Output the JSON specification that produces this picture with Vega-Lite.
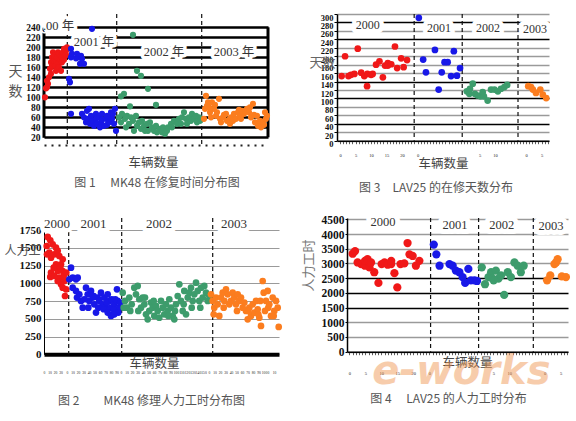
{
  "$schema": "https://vega.github.io/schema/vega-lite/v6.json",
  "background": "white",
  "padding": {"left": 3, "top": 13, "right": 0, "bottom": 0},
  "spacing": 19,
  "config": {
    "view": {"stroke": null},
    "axis": {"labelFont": "Liberation Serif", "titleFont": "Noto Sans CJK SC", "titleFontWeight": "normal", "labelOverlap": false},
    "title": {"font": "Noto Sans CJK SC", "fontWeight": "normal", "fontSize": 12, "color": "#555"}
  },
  "datasets": {
    "d1": [
      {"yr":"2000","x":1,"v":100},{"yr":"2000","x":2,"v":118},{"yr":"2000","x":3,"v":133},{"yr":"2000","x":3,"v":120},{"yr":"2000","x":4,"v":127},{"yr":"2000","x":5,"v":140},{"yr":"2000","x":6,"v":157},{"yr":"2000","x":7,"v":170},{"yr":"2000","x":7,"v":147},{"yr":"2000","x":8,"v":180},{"yr":"2000","x":8,"v":163},{"yr":"2000","x":9,"v":190},{"yr":"2000","x":10,"v":173},{"yr":"2000","x":10,"v":183},{"yr":"2000","x":11,"v":163},{"yr":"2000","x":12,"v":153},{"yr":"2000","x":12,"v":173},{"yr":"2000","x":13,"v":180},{"yr":"2000","x":14,"v":167},{"yr":"2000","x":14,"v":190},{"yr":"2000","x":15,"v":187},{"yr":"2000","x":15,"v":160},{"yr":"2000","x":16,"v":177},{"yr":"2000","x":17,"v":183},{"yr":"2000","x":17,"v":153},{"yr":"2000","x":18,"v":170},{"yr":"2000","x":18,"v":180},{"yr":"2000","x":19,"v":190},{"yr":"2000","x":20,"v":197},{"yr":"2000","x":20,"v":175},{"yr":"2000","x":21,"v":183},{"yr":"2000","x":22,"v":193},{"yr":"2000","x":22,"v":185},{"yr":"2000","x":23,"v":200},
      {"yr":"2001","x":25,"v":137},{"yr":"2001","x":26,"v":130},{"yr":"2001","x":27,"v":197},{"yr":"2001","x":27,"v":180},{"yr":"2001","x":27,"v":67},{"yr":"2001","x":28,"v":187},{"yr":"2001","x":32,"v":178},{"yr":"2001","x":33,"v":187},{"yr":"2001","x":35,"v":180},{"yr":"2001","x":36,"v":167},{"yr":"2001","x":37,"v":183},{"yr":"2001","x":38,"v":177},{"yr":"2001","x":40,"v":167},{"yr":"2001","x":48,"v":237},
      {"yr":"2001","x":38,"v":67},{"yr":"2001","x":40,"v":60},{"yr":"2001","x":42,"v":50},{"yr":"2001","x":43,"v":73},{"yr":"2001","x":44,"v":57},{"yr":"2001","x":45,"v":77},{"yr":"2001","x":46,"v":47},{"yr":"2001","x":47,"v":63},{"yr":"2001","x":49,"v":53},{"yr":"2001","x":50,"v":43},{"yr":"2001","x":52,"v":67},{"yr":"2001","x":52,"v":57},{"yr":"2001","x":53,"v":47},{"yr":"2001","x":55,"v":60},{"yr":"2001","x":56,"v":40},{"yr":"2001","x":57,"v":50},{"yr":"2001","x":58,"v":67},{"yr":"2001","x":58,"v":55},{"yr":"2001","x":60,"v":43},{"yr":"2001","x":62,"v":57},{"yr":"2001","x":63,"v":63},{"yr":"2001","x":63,"v":45},{"yr":"2001","x":65,"v":50},{"yr":"2001","x":66,"v":60},{"yr":"2001","x":67,"v":70},{"yr":"2001","x":68,"v":57},{"yr":"2001","x":69,"v":67},{"yr":"2001","x":70,"v":47},{"yr":"2001","x":71,"v":77},{"yr":"2001","x":72,"v":33},
      {"yr":"2002","x":89,"v":225},{"yr":"2002","x":93,"v":153},{"yr":"2002","x":97,"v":143},{"yr":"2002","x":104,"v":117},{"yr":"2002","x":112,"v":85},{"yr":"2002","x":77,"v":102},{"yr":"2002","x":80,"v":107},{"yr":"2002","x":86,"v":82},
      {"yr":"2002","x":75,"v":60},{"yr":"2002","x":77,"v":50},{"yr":"2002","x":78,"v":67},{"yr":"2002","x":81,"v":57},{"yr":"2002","x":82,"v":40},{"yr":"2002","x":83,"v":63},{"yr":"2002","x":85,"v":47},{"yr":"2002","x":87,"v":60},{"yr":"2002","x":89,"v":53},{"yr":"2002","x":90,"v":33},{"yr":"2002","x":92,"v":63},{"yr":"2002","x":93,"v":43},{"yr":"2002","x":95,"v":50},{"yr":"2002","x":97,"v":37},{"yr":"2002","x":98,"v":53},{"yr":"2002","x":100,"v":43},{"yr":"2002","x":101,"v":33},{"yr":"2002","x":103,"v":47},{"yr":"2002","x":104,"v":33},{"yr":"2002","x":106,"v":50},{"yr":"2002","x":108,"v":40},{"yr":"2002","x":110,"v":33},{"yr":"2002","x":112,"v":43},{"yr":"2002","x":113,"v":30},{"yr":"2002","x":116,"v":37},{"yr":"2002","x":118,"v":30},{"yr":"2002","x":119,"v":40},{"yr":"2002","x":121,"v":27},{"yr":"2002","x":123,"v":33},{"yr":"2002","x":124,"v":40},{"yr":"2002","x":127,"v":47},{"yr":"2002","x":128,"v":40},{"yr":"2002","x":130,"v":53},{"yr":"2002","x":133,"v":47},{"yr":"2002","x":135,"v":57},{"yr":"2002","x":137,"v":47},{"yr":"2002","x":138,"v":60},{"yr":"2002","x":140,"v":70},{"yr":"2002","x":142,"v":57},{"yr":"2002","x":143,"v":47},{"yr":"2002","x":145,"v":60},{"yr":"2002","x":147,"v":53},{"yr":"2002","x":148,"v":67},{"yr":"2002","x":150,"v":57},{"yr":"2002","x":152,"v":63},{"yr":"2002","x":153,"v":50},{"yr":"2002","x":155,"v":60},{"yr":"2002","x":156,"v":53},
      {"yr":"2003","x":160,"v":57},{"yr":"2003","x":161,"v":77},{"yr":"2003","x":162,"v":103},{"yr":"2003","x":163,"v":83},{"yr":"2003","x":164,"v":90},{"yr":"2003","x":165,"v":80},{"yr":"2003","x":166,"v":70},{"yr":"2003","x":167,"v":60},{"yr":"2003","x":168,"v":90},{"yr":"2003","x":170,"v":77},{"yr":"2003","x":171,"v":85},{"yr":"2003","x":172,"v":63},{"yr":"2003","x":173,"v":70},{"yr":"2003","x":175,"v":97},{"yr":"2003","x":176,"v":57},{"yr":"2003","x":177,"v":50},{"yr":"2003","x":179,"v":60},{"yr":"2003","x":180,"v":65},{"yr":"2003","x":182,"v":67},{"yr":"2003","x":183,"v":53},{"yr":"2003","x":185,"v":55},{"yr":"2003","x":186,"v":47},{"yr":"2003","x":187,"v":60},{"yr":"2003","x":189,"v":53},{"yr":"2003","x":190,"v":67},{"yr":"2003","x":192,"v":57},{"yr":"2003","x":194,"v":70},{"yr":"2003","x":195,"v":75},{"yr":"2003","x":196,"v":63},{"yr":"2003","x":197,"v":57},{"yr":"2003","x":198,"v":73},{"yr":"2003","x":200,"v":67},{"yr":"2003","x":201,"v":72},{"yr":"2003","x":203,"v":77},{"yr":"2003","x":205,"v":70},{"yr":"2003","x":206,"v":80},{"yr":"2003","x":207,"v":60},{"yr":"2003","x":209,"v":87},{"yr":"2003","x":210,"v":65},{"yr":"2003","x":211,"v":50},{"yr":"2003","x":213,"v":63},{"yr":"2003","x":214,"v":43},{"yr":"2003","x":215,"v":48},{"yr":"2003","x":216,"v":53},{"yr":"2003","x":217,"v":40},{"yr":"2003","x":219,"v":50},{"yr":"2003","x":220,"v":45},{"yr":"2003","x":221,"v":70},{"yr":"2003","x":222,"v":57},{"yr":"2003","x":223,"v":63}
    ],
    "b1": [{"x":23.3},{"x":72.7},{"x":157.7}],
    "a1": [{"t":".00 年","x":14.5,"v":243},{"t":"2001 年","x":50,"v":210},{"t":"2002 年","x":120,"v":190},{"t":"2003 年","x":190,"v":191}],
    "d2": [
      {"yr":"2000","x":0.5,"v":153},{"yr":"2000","x":1.6,"v":200},{"yr":"2000","x":2.7,"v":153},{"yr":"2000","x":3.5,"v":156},{"yr":"2000","x":4.6,"v":158},{"yr":"2000","x":5.7,"v":218},{"yr":"2000","x":6.8,"v":161},{"yr":"2000","x":7.8,"v":153},{"yr":"2000","x":8.7,"v":129},{"yr":"2000","x":8.8,"v":158},{"yr":"2000","x":10,"v":156},{"yr":"2000","x":10.5,"v":158},{"yr":"2000","x":11.6,"v":180},{"yr":"2000","x":12.7,"v":188},{"yr":"2000","x":13.8,"v":150},{"yr":"2000","x":14.5,"v":178},{"yr":"2000","x":15.4,"v":184},{"yr":"2000","x":15.4,"v":178},{"yr":"2000","x":16.5,"v":181},{"yr":"2000","x":17.7,"v":223},{"yr":"2000","x":18.4,"v":172},{"yr":"2000","x":19.7,"v":195},{"yr":"2000","x":20.5,"v":174},{"yr":"2000","x":21.6,"v":191},
      {"yr":"2001","x":25.4,"v":291},{"yr":"2001","x":26.8,"v":192},{"yr":"2001","x":27.7,"v":162},{"yr":"2001","x":30.6,"v":215},{"yr":"2001","x":31.8,"v":121},{"yr":"2001","x":32.8,"v":162},{"yr":"2001","x":33.7,"v":186},{"yr":"2001","x":34.7,"v":186},{"yr":"2001","x":35.8,"v":153},{"yr":"2001","x":36.7,"v":212},{"yr":"2001","x":37.7,"v":154},{"yr":"2001","x":38.7,"v":172},
      {"yr":"2002","x":40.9,"v":117},{"yr":"2002","x":41.7,"v":111},{"yr":"2002","x":41.9,"v":123},{"yr":"2002","x":42.8,"v":135},{"yr":"2002","x":43.5,"v":111},{"yr":"2002","x":44.4,"v":107},{"yr":"2002","x":45.3,"v":105},{"yr":"2002","x":46,"v":115},{"yr":"2002","x":46.4,"v":105},{"yr":"2002","x":47.6,"v":95},{"yr":"2002","x":48.7,"v":121},{"yr":"2002","x":49.8,"v":121},{"yr":"2002","x":50.9,"v":117},{"yr":"2002","x":51.9,"v":123},{"yr":"2002","x":53,"v":127},{"yr":"2002","x":53.9,"v":132},
      {"yr":"2003","x":60.7,"v":129},{"yr":"2003","x":61.6,"v":127},{"yr":"2003","x":62.2,"v":121},{"yr":"2003","x":63.2,"v":113},{"yr":"2003","x":64.6,"v":121},{"yr":"2003","x":65.4,"v":109},{"yr":"2003","x":66.5,"v":101}
    ],
    "b2": [{"x":23.9},{"x":39.4},{"x":57.4}],
    "a2": [{"t":"2000","x":8.9,"v":275},{"t":"2001","x":31.9,"v":267},{"t":"2002","x":47.7,"v":267},{"t":"2003","x":62.9,"v":264}],
    "d3": [
      {"yr":"2000","x":1.7,"v":1652},{"yr":"2000","x":4.3,"v":1605},{"yr":"2000","x":0.7,"v":1525},{"yr":"2000","x":6.7,"v":1548},{"yr":"2000","x":10,"v":1501},{"yr":"2000","x":3.3,"v":1431},{"yr":"2000","x":5,"v":1361},{"yr":"2000","x":8.3,"v":1408},{"yr":"2000","x":11.7,"v":1455},{"yr":"2000","x":13.3,"v":1384},{"yr":"2000","x":16.7,"v":1337},{"yr":"2000","x":15,"v":1267},{"yr":"2000","x":10,"v":1267},{"yr":"2000","x":5,"v":1150},{"yr":"2000","x":4.3,"v":1089},{"yr":"2000","x":11.7,"v":1173},{"yr":"2000","x":13.3,"v":1079},{"yr":"2000","x":16.7,"v":1173},{"yr":"2000","x":18.3,"v":1032},{"yr":"2000","x":15,"v":985},{"yr":"2000","x":20,"v":915},{"yr":"2000","x":19,"v":821},{"yr":"2000","x":16.7,"v":938},{"yr":"2000","x":11.7,"v":1032},{"yr":"2000","x":8.3,"v":1103},{"yr":"2000","x":1,"v":1408},{"yr":"2000","x":7.7,"v":1220},{"yr":"2000","x":14.3,"v":1220},{"yr":"2000","x":17.7,"v":1103},{"yr":"2000","x":20.3,"v":1150},
      {"yr":"2001","x":25,"v":1220},{"yr":"2001","x":23.3,"v":1056},{"yr":"2001","x":26.7,"v":1079},{"yr":"2001","x":30,"v":1056},{"yr":"2001","x":31.7,"v":1079},{"yr":"2001","x":26.7,"v":938},{"yr":"2001","x":30,"v":892},{"yr":"2001","x":33.3,"v":845},{"yr":"2001","x":35,"v":751},{"yr":"2001","x":36.7,"v":657},{"yr":"2001","x":40,"v":938},{"yr":"2001","x":41.7,"v":845},{"yr":"2001","x":43.3,"v":751},{"yr":"2001","x":45,"v":892},{"yr":"2001","x":46.7,"v":798},{"yr":"2001","x":48.3,"v":704},{"yr":"2001","x":50,"v":587},{"yr":"2001","x":51.7,"v":798},{"yr":"2001","x":53.3,"v":751},{"yr":"2001","x":55,"v":868},{"yr":"2001","x":56.7,"v":704},{"yr":"2001","x":58.3,"v":798},{"yr":"2001","x":60,"v":657},{"yr":"2001","x":61.7,"v":845},{"yr":"2001","x":63.3,"v":751},{"yr":"2001","x":65,"v":657},{"yr":"2001","x":66.7,"v":563},{"yr":"2001","x":68.3,"v":704},{"yr":"2001","x":70,"v":610},{"yr":"2001","x":71.7,"v":751},{"yr":"2001","x":71,"v":915},{"yr":"2001","x":73.3,"v":657},{"yr":"2001","x":31,"v":798},{"yr":"2001","x":38.3,"v":775},{"yr":"2001","x":42.3,"v":657},{"yr":"2001","x":47.7,"v":821},{"yr":"2001","x":52.3,"v":657},{"yr":"2001","x":57.7,"v":634},{"yr":"2001","x":61,"v":728},{"yr":"2001","x":65.7,"v":775},{"yr":"2001","x":67.7,"v":634},{"yr":"2001","x":72.3,"v":587},{"yr":"2001","x":69.3,"v":775},{"yr":"2001","x":74.3,"v":728},{"yr":"2001","x":65,"v":540},{"yr":"2001","x":68.3,"v":563},{"yr":"2001","x":61.7,"v":587},
      {"yr":"2002","x":76.7,"v":868},{"yr":"2002","x":79,"v":751},{"yr":"2002","x":81,"v":657},{"yr":"2002","x":83.3,"v":798},{"yr":"2002","x":85.7,"v":704},{"yr":"2002","x":88.3,"v":938},{"yr":"2002","x":90,"v":845},{"yr":"2002","x":91.7,"v":962},{"yr":"2002","x":93.3,"v":775},{"yr":"2002","x":95,"v":657},{"yr":"2002","x":96.7,"v":798},{"yr":"2002","x":98.3,"v":704},{"yr":"2002","x":100,"v":563},{"yr":"2002","x":101.7,"v":493},{"yr":"2002","x":103.3,"v":610},{"yr":"2002","x":105,"v":728},{"yr":"2002","x":106.7,"v":657},{"yr":"2002","x":108.3,"v":540},{"yr":"2002","x":110,"v":681},{"yr":"2002","x":111.7,"v":610},{"yr":"2002","x":113.3,"v":516},{"yr":"2002","x":115,"v":751},{"yr":"2002","x":116.7,"v":657},{"yr":"2002","x":118.3,"v":563},{"yr":"2002","x":120,"v":704},{"yr":"2002","x":121.7,"v":610},{"yr":"2002","x":123.3,"v":775},{"yr":"2002","x":125,"v":657},{"yr":"2002","x":126.7,"v":540},{"yr":"2002","x":128.3,"v":493},{"yr":"2002","x":130,"v":704},{"yr":"2002","x":131.7,"v":821},{"yr":"2002","x":133.3,"v":985},{"yr":"2002","x":135,"v":751},{"yr":"2002","x":136.7,"v":610},{"yr":"2002","x":138.3,"v":892},{"yr":"2002","x":140,"v":563},{"yr":"2002","x":141.7,"v":798},{"yr":"2002","x":143.3,"v":868},{"yr":"2002","x":145,"v":938},{"yr":"2002","x":146.7,"v":751},{"yr":"2002","x":148.3,"v":845},{"yr":"2002","x":150,"v":1009},{"yr":"2002","x":151.7,"v":892},{"yr":"2002","x":153.3,"v":751},{"yr":"2002","x":155,"v":938},{"yr":"2002","x":156.7,"v":798},{"yr":"2002","x":158.3,"v":962},{"yr":"2002","x":160,"v":868},{"yr":"2002","x":161.7,"v":751},{"yr":"2002","x":163.3,"v":821},{"yr":"2002","x":77.7,"v":657},{"yr":"2002","x":84.3,"v":610},{"yr":"2002","x":92.3,"v":610},{"yr":"2002","x":99,"v":798},{"yr":"2002","x":107.7,"v":751},{"yr":"2002","x":122.3,"v":540},{"yr":"2002","x":129,"v":610},{"yr":"2002","x":137.7,"v":704},{"yr":"2002","x":145.7,"v":657},{"yr":"2002","x":154.3,"v":657},
      {"yr":"2003","x":165,"v":845},{"yr":"2003","x":166.7,"v":751},{"yr":"2003","x":168.3,"v":657},{"yr":"2003","x":170,"v":798},{"yr":"2003","x":171.7,"v":704},{"yr":"2003","x":173.3,"v":540},{"yr":"2003","x":175,"v":798},{"yr":"2003","x":176.7,"v":868},{"yr":"2003","x":178.3,"v":751},{"yr":"2003","x":180,"v":915},{"yr":"2003","x":181.7,"v":845},{"yr":"2003","x":183.3,"v":704},{"yr":"2003","x":185,"v":751},{"yr":"2003","x":186.7,"v":868},{"yr":"2003","x":188.3,"v":798},{"yr":"2003","x":190,"v":704},{"yr":"2003","x":191.7,"v":845},{"yr":"2003","x":193.3,"v":751},{"yr":"2003","x":195,"v":798},{"yr":"2003","x":196.7,"v":657},{"yr":"2003","x":198.3,"v":728},{"yr":"2003","x":200,"v":610},{"yr":"2003","x":201.7,"v":493},{"yr":"2003","x":203.3,"v":657},{"yr":"2003","x":205,"v":540},{"yr":"2003","x":206.7,"v":704},{"yr":"2003","x":208.3,"v":587},{"yr":"2003","x":210,"v":751},{"yr":"2003","x":211.7,"v":634},{"yr":"2003","x":213.3,"v":516},{"yr":"2003","x":215,"v":399},{"yr":"2003","x":216.7,"v":1032},{"yr":"2003","x":217.7,"v":868},{"yr":"2003","x":219,"v":610},{"yr":"2003","x":220,"v":751},{"yr":"2003","x":221.7,"v":892},{"yr":"2003","x":223.3,"v":704},{"yr":"2003","x":225,"v":540},{"yr":"2003","x":226.7,"v":798},{"yr":"2003","x":228.3,"v":610},{"yr":"2003","x":230,"v":751},{"yr":"2003","x":231.7,"v":657},{"yr":"2003","x":232.7,"v":385},{"yr":"2003","x":167.7,"v":563},{"yr":"2003","x":177.7,"v":657},{"yr":"2003","x":191,"v":610},{"yr":"2003","x":202.3,"v":610},{"yr":"2003","x":212.3,"v":563},{"yr":"2003","x":222.3,"v":657},{"yr":"2003","x":227.7,"v":540},{"yr":"2003","x":214.3,"v":751}
    ],
    "b3": [{"x":22.7},{"x":75.7},{"x":166.7}],
    "a3": [{"t":"2000","x":11,"v":1835},{"t":"2001","x":47.5,"v":1835},{"t":"2002","x":113,"v":1835},{"t":"2003","x":188,"v":1835}],
    "d4": [
      {"yr":"2000","x":1.05,"v":3331},{"yr":"2000","x":1.8,"v":3419},{"yr":"2000","x":2.6,"v":3033},{"yr":"2000","x":3.7,"v":2978},{"yr":"2000","x":4.9,"v":2923},{"yr":"2000","x":4.9,"v":3089},{"yr":"2000","x":5.7,"v":3144},{"yr":"2000","x":6.3,"v":2868},{"yr":"2000","x":6.8,"v":3033},{"yr":"2000","x":7.8,"v":2702},{"yr":"2000","x":9.1,"v":2338},{"yr":"2000","x":10.1,"v":2978},{"yr":"2000","x":11,"v":3033},{"yr":"2000","x":12,"v":2956},{"yr":"2000","x":13.1,"v":2978},{"yr":"2000","x":13.1,"v":3089},{"yr":"2000","x":14.1,"v":2669},{"yr":"2000","x":15,"v":2184},{"yr":"2000","x":16,"v":2978},{"yr":"2000","x":17.2,"v":3000},{"yr":"2000","x":18.2,"v":3695},{"yr":"2000","x":18.8,"v":3309},{"yr":"2000","x":19.8,"v":3254},{"yr":"2000","x":20.8,"v":2923},{"yr":"2000","x":21.9,"v":3089},
      {"yr":"2001","x":26.4,"v":3640},{"yr":"2001","x":27.2,"v":3309},{"yr":"2001","x":28.2,"v":2923},{"yr":"2001","x":31.3,"v":2978},{"yr":"2001","x":32.3,"v":2923},{"yr":"2001","x":33.3,"v":2758},{"yr":"2001","x":34.4,"v":2702},{"yr":"2001","x":35.4,"v":2537},{"yr":"2001","x":36.2,"v":2338},{"yr":"2001","x":37.2,"v":2813},{"yr":"2001","x":38,"v":2427},{"yr":"2001","x":39.1,"v":2427},{"yr":"2001","x":39.9,"v":2404},
      {"yr":"2002","x":41.4,"v":2868},{"yr":"2002","x":42.4,"v":2294},{"yr":"2002","x":43.5,"v":2537},{"yr":"2002","x":44.3,"v":2702},{"yr":"2002","x":44.8,"v":2482},{"yr":"2002","x":45.1,"v":2427},{"yr":"2002","x":45.8,"v":2758},{"yr":"2002","x":46.6,"v":2482},{"yr":"2002","x":47.4,"v":2592},{"yr":"2002","x":48.4,"v":1930},{"yr":"2002","x":49.5,"v":2702},{"yr":"2002","x":50.5,"v":2537},{"yr":"2002","x":51.6,"v":3033},{"yr":"2002","x":52.6,"v":2923},{"yr":"2002","x":53.6,"v":2702},{"yr":"2002","x":54.5,"v":2923},
      {"yr":"2003","x":61.8,"v":2427},{"yr":"2003","x":62.8,"v":2592},{"yr":"2003","x":64.1,"v":2978},{"yr":"2003","x":64.6,"v":3033},{"yr":"2003","x":65.1,"v":3144},{"yr":"2003","x":66.4,"v":2559},{"yr":"2003","x":67.7,"v":2537}
    ],
    "b4": [{"x":25.4},{"x":40.4},{"x":57.5}],
    "a4": [{"t":"2000","x":10.5,"v":4411},{"t":"2001","x":33,"v":4302},{"t":"2002","x":47.6,"v":4302},{"t":"2003","x":63,"v":4280}]
  },
  "vconcat": [
    {
      "bounds": "flush",
      "spacing": 69,
      "hconcat": [
        {
          "width": 224,
          "height": 131,
          "title": {"text": "图 1　 MK48 在修复时间分布图", "orient": "bottom", "anchor": "middle", "offset": 9, "dx": 1},
          "layer": [
            {
              "data": {"name": "b1"},
              "mark": {"type": "rule", "strokeDash": [4, 3], "strokeWidth": 1.2, "color": "#111"},
              "encoding": {"x": {"field": "x", "type": "quantitative", "scale": {"domain": [0, 224], "nice": false, "zero": false}}}
            },
            {
              "data": {"values": [{}]},
              "mark": {"type": "rule", "strokeWidth": 3, "color": "#000"},
              "encoding": {
                "x": {"datum": 0, "scale": {"domain": [0, 224], "nice": false, "zero": false}},
                "y": {"datum": 19, "scale": {"domain": [4.6, 266.6], "nice": false, "zero": false}},
                "y2": {"datum": 240}
              }
            },
            {
              "data": {"values": [{}]},
              "mark": {"type": "rule", "strokeWidth": 3, "color": "#000"},
              "encoding": {
                "x": {"datum": 224, "scale": {"domain": [0, 224], "nice": false, "zero": false}},
                "y": {"datum": 20, "scale": {"domain": [4.6, 266.6], "nice": false, "zero": false}},
                "y2": {"datum": 240}
              }
            },
            {
              "data": {"name": "a1"},
              "mark": {"type": "text", "font": "Liberation Serif, Noto Sans CJK SC", "fontSize": 12.5, "fill": "#fff", "stroke": "#fff", "strokeWidth": 7, "strokeJoin": "round"},
              "encoding": {
                "x": {"field": "x", "type": "quantitative", "scale": {"domain": [0, 224], "nice": false, "zero": false}},
                "y": {"field": "v", "type": "quantitative", "scale": {"domain": [4.6, 266.6], "nice": false, "zero": false}},
                "text": {"field": "t"}
              }
            },
            {
              "data": {"name": "a1"},
              "mark": {"type": "text", "font": "Liberation Serif, Noto Sans CJK SC", "fontSize": 12.5, "color": "#333"},
              "encoding": {
                "x": {"field": "x", "type": "quantitative", "scale": {"domain": [0, 224], "nice": false, "zero": false}},
                "y": {"field": "v", "type": "quantitative", "scale": {"domain": [4.6, 266.6], "nice": false, "zero": false}},
                "text": {"field": "t"}
              }
            },
            {
              "data": {"name": "d1"},
              "mark": {"type": "circle", "size": 38, "opacity": 1},
              "encoding": {
                "x": {
                  "field": "x", "type": "quantitative",
                  "scale": {"domain": [0, 224], "nice": false, "zero": false},
                  "axis": {
                    "title": "车辆数量", "titleFontSize": 12.5, "titleColor": "#444", "titleX": 109, "titleY": 17, "titleAlign": "center", "titleBaseline": "middle",
                    "domainDash": [2, 5], "domainWidth": 2, "domainColor": "#222", "ticks": false, "labels": false, "grid": false
                  }
                },
                "y": {
                  "field": "v", "type": "quantitative",
                  "scale": {"domain": [4.6, 266.6], "nice": false, "zero": false},
                  "axis": {
                    "values": [20, 40, 60, 80, 100, 120, 140, 160, 180, 200, 220, 240], "tickCount": 300, "format": "d",
                    "grid": true, "gridColor": "#000", "gridWidth": 2.5, "gridOpacity": 1,
                    "domain": false, "ticks": false, "labelOverlap": false,
                    "labelFontWeight": "bold", "labelFontSize": 9.5, "labelColor": "#111", "labelPadding": 4,
                    "title": ["天", "数"], "titleAngle": 0, "titleFontSize": 14, "titleColor": "#555", "titleX": -29, "titleY": 57, "titleAlign": "center", "titleBaseline": "middle", "titleLineHeight": 20
                  }
                },
                "color": {"field": "yr", "type": "nominal", "scale": {"domain": ["2000", "2001", "2002", "2003"], "range": ["#f01818", "#1818e8", "#3d9c6c", "#fb7d1f"]}, "legend": null}
              }
            }
          ]
        },
        {
          "width": 212,
          "height": 126.7,
          "title": {"text": "图 3　LAV25 的在修天数分布", "orient": "bottom", "anchor": "middle", "offset": 13, "dx": -7},
          "layer": [
            {
              "data": {"name": "b2"},
              "mark": {"type": "rule", "strokeDash": [4, 3], "strokeWidth": 1.2, "color": "#111"},
              "encoding": {"x": {"field": "x", "type": "quantitative", "scale": {"domain": [-1, 67.4], "nice": false, "zero": false}}}
            },
            {
              "data": {"name": "a2"},
              "mark": {"type": "text", "font": "Liberation Serif", "fontSize": 12, "fill": "#fff", "stroke": "#fff", "strokeWidth": 9, "strokeJoin": "round"},
              "encoding": {
                "x": {"field": "x", "type": "quantitative", "scale": {"domain": [-1, 67.4], "nice": false, "zero": false}},
                "y": {"field": "v", "type": "quantitative", "scale": {"domain": [0, 300], "nice": false, "zero": false}},
                "text": {"field": "t"}
              }
            },
            {
              "data": {"name": "a2"},
              "mark": {"type": "text", "font": "Liberation Serif", "fontSize": 12, "color": "#333"},
              "encoding": {
                "x": {"field": "x", "type": "quantitative", "scale": {"domain": [-1, 67.4], "nice": false, "zero": false}},
                "y": {"field": "v", "type": "quantitative", "scale": {"domain": [0, 300], "nice": false, "zero": false}},
                "text": {"field": "t"}
              }
            },
            {
              "data": {"name": "d2"},
              "mark": {"type": "circle", "size": 45, "opacity": 1},
              "encoding": {
                "x": {
                  "field": "x", "type": "quantitative",
                  "scale": {"domain": [-1, 67.4], "nice": false, "zero": false},
                  "axis": {
                    "values": [0,1,2,3,4,5,6,7,8,9,10,11,12,13,14,15,16,17,18,19,20,21,22,23,24,25,26,27,28,29,30,31,32,33,34,35,36,37,38,39,40,41,42,43,44,45,46,47,48,49,50,51,52,53,54,55,56,57,58,59,60,61,62,63,64,65,66,67], "tickCount": 300, "format": "d",
                    "labelExpr": "datum.value <= 20 ? (datum.value % 5 === 0 ? datum.label : '') : datum.value === 25 ? '0' : datum.value === 45 ? '5' : datum.value === 50 ? '10' : datum.value === 60 ? '0' : datum.value === 65 ? '5' : ''",
                    "labelFontSize": 4.5, "labelColor": "#222", "labelPadding": 9, "labelOverlap": false, "labelBound": false, "labelFlush": false,
                    "tickSize": 3, "tickColor": "#333", "tickWidth": 0.8,
                    "domainColor": "#000", "domainWidth": 1.5, "grid": false,
                    "title": "车辆数量", "titleFontSize": 12.5, "titleColor": "#444", "titleX": 106, "titleY": 23, "titleAlign": "center", "titleBaseline": "middle"
                  }
                },
                "y": {
                  "field": "v", "type": "quantitative",
                  "scale": {"domain": [0, 300], "nice": false, "zero": false},
                  "axis": {
                    "values": [0, 20, 40, 60, 80, 100, 120, 140, 160, 180, 200, 220, 240, 260, 280, 300], "tickCount": 300, "format": "d",
                    "grid": true,
                    "gridColor": {"condition": {"test": "indexof([40, 100, 140, 240, 280], datum.value) >= 0", "value": "#000"}, "value": "#9a9a9a"},
                    "gridWidth": 1.3, "labelOverlap": false,
                    "domainColor": "#000", "domainWidth": 1.5, "tickSize": 3, "tickColor": "#000",
                    "labelFontWeight": "bold", "labelFontSize": 8.5, "labelColor": "#111", "labelPadding": 1, "labelOffset": 3,
                    "title": "天数", "titleAngle": 0, "titleFontSize": 13, "titleColor": "#666", "titleX": -15, "titleY": 48, "titleAlign": "center", "titleBaseline": "middle"
                  }
                },
                "color": {"field": "yr", "type": "nominal", "scale": {"domain": ["2000", "2001", "2002", "2003"], "range": ["#f01818", "#1818e8", "#3d9c6c", "#fb7d1f"]}, "legend": null}
              }
            }
          ]
        }
      ]
    },
    {
      "bounds": "flush",
      "spacing": 68,
      "hconcat": [
        {
          "width": 235,
          "height": 136.3,
          "title": {"text": "图 2　　MK48 修理人力工时分布图", "orient": "bottom", "anchor": "middle", "offset": 22, "dx": -10},
          "layer": [
            {
              "data": {"name": "b3"},
              "mark": {"type": "rule", "strokeDash": [4, 3], "strokeWidth": 1.2, "color": "#111"},
              "encoding": {"x": {"field": "x", "type": "quantitative", "scale": {"domain": [-2, 233], "nice": false, "zero": false}}}
            },
            {
              "data": {"name": "a3"},
              "mark": {"type": "text", "font": "Liberation Serif", "fontSize": 13, "fill": "#fff", "stroke": "#fff", "strokeWidth": 9, "strokeJoin": "round"},
              "encoding": {
                "x": {"field": "x", "type": "quantitative", "scale": {"domain": [-2, 233], "nice": false, "zero": false}},
                "y": {"field": "v", "type": "quantitative", "scale": {"domain": [0, 1919], "nice": false, "zero": false}},
                "text": {"field": "t"}
              }
            },
            {
              "data": {"name": "a3"},
              "mark": {"type": "text", "font": "Liberation Serif", "fontSize": 13, "color": "#333"},
              "encoding": {
                "x": {"field": "x", "type": "quantitative", "scale": {"domain": [-2, 233], "nice": false, "zero": false}},
                "y": {"field": "v", "type": "quantitative", "scale": {"domain": [0, 1919], "nice": false, "zero": false}},
                "text": {"field": "t"}
              }
            },
            {
              "data": {"name": "d3"},
              "mark": {"type": "circle", "size": 45, "opacity": 1},
              "encoding": {
                "x": {
                  "field": "x", "type": "quantitative",
                  "scale": {"domain": [-2, 233], "nice": false, "zero": false},
                  "axis": {
                    "values": [-2, 3.5, 9, 14.5, 21, 26.5, 32, 37.5, 43, 48.5, 54, 59.5, 65, 70.5, 75, 80.5, 86, 91.5, 97, 102.5, 108, 113.5, 119, 124.5, 130, 135.5, 141, 146.5, 152, 157.5, 163, 168.5, 174, 179.5, 185, 190.5, 196, 201.5, 207, 212.5, 218, 222, 228], "tickCount": 300,
                    "labelExpr": "datum.value < 19 ? '' + round((datum.value + 2) / 5.5) * 10 : datum.value < 73 ? '' + round((datum.value - 21) / 5.5) * 10 : datum.value < 161 ? '' + round((datum.value - 75) / 5.5) * 10 : datum.value < 221 ? '' + round((datum.value - 163) / 5.5) * 10 : '' + round((datum.value - 222) / 5.5) * 10",
                    "labelFontSize": 3.6, "labelColor": "#222", "labelPadding": 16, "labelOverlap": false, "labelBound": false, "labelFlush": false,
                    "ticks": false, "tickSize": 0,
                    "domainColor": "#000", "domainWidth": 4, "grid": false,
                    "title": "车辆数量", "titleFontSize": 12.5, "titleColor": "#444", "titleX": 110, "titleY": 9, "titleAlign": "center", "titleBaseline": "middle"
                  }
                },
                "y": {
                  "field": "v", "type": "quantitative",
                  "scale": {"domain": [0, 1919], "nice": false, "zero": false},
                  "axis": {
                    "values": [0, 250, 500, 750, 1000, 1250, 1500, 1750], "tickCount": 300, "format": "d", "labelOverlap": false,
                    "grid": true, "gridColor": "#9a9a9a", "gridWidth": 1.2,
                    "domainColor": "#000", "domainWidth": 1, "ticks": false,
                    "labelFontWeight": "bold", "labelFontSize": 11, "labelColor": "#111", "labelPadding": 3,
                    "title": "人力工", "titleAngle": 0, "titleFontSize": 12, "titleColor": "#555", "titleX": -22, "titleY": 32, "titleAlign": "center", "titleBaseline": "middle"
                  }
                },
                "color": {"field": "yr", "type": "nominal", "scale": {"domain": ["2000", "2001", "2002", "2003"], "range": ["#f01818", "#1818e8", "#3d9c6c", "#fb7d1f"]}, "legend": null}
              }
            }
          ]
        },
        {
          "width": 221,
          "height": 133.7,
          "title": {"text": "图 4　 LAV25 的人力工时分布", "orient": "bottom", "anchor": "middle", "offset": 2, "dx": -9},
          "layer": [
            {
              "data": {"name": "b4"},
              "mark": {"type": "rule", "strokeDash": [4, 3], "strokeWidth": 1.2, "color": "#111"},
              "encoding": {"x": {"field": "x", "type": "quantitative", "scale": {"domain": [-0.72, 68.34], "nice": false, "zero": false}}}
            },
            {
              "data": {"name": "a4"},
              "mark": {"type": "text", "font": "Liberation Serif", "fontSize": 12.5, "fill": "#fff", "stroke": "#fff", "strokeWidth": 10, "strokeJoin": "round"},
              "encoding": {
                "x": {"field": "x", "type": "quantitative", "scale": {"domain": [-0.72, 68.34], "nice": false, "zero": false}},
                "y": {"field": "v", "type": "quantitative", "scale": {"domain": [0, 4545], "nice": false, "zero": false}},
                "text": {"field": "t"}
              }
            },
            {
              "data": {"name": "a4"},
              "mark": {"type": "text", "font": "Liberation Serif", "fontSize": 12.5, "color": "#333"},
              "encoding": {
                "x": {"field": "x", "type": "quantitative", "scale": {"domain": [-0.72, 68.34], "nice": false, "zero": false}},
                "y": {"field": "v", "type": "quantitative", "scale": {"domain": [0, 4545], "nice": false, "zero": false}},
                "text": {"field": "t"}
              }
            },
            {
              "data": {"name": "d4"},
              "mark": {"type": "circle", "size": 68, "opacity": 1},
              "encoding": {
                "x": {
                  "field": "x", "type": "quantitative",
                  "scale": {"domain": [-0.72, 68.34], "nice": false, "zero": false},
                  "axis": {
                    "values": [0,1,2,3,4,5,6,7,8,9,10,11,12,13,14,15,16,17,18,19,20,21,22,23,24,25,26,27,28,29,30,31,32,33,34,35,36,37,38,39,40,41,42,43,44,45,46,47,48,49,50,51,52,53,54,55,56,57,58,59,60,61,62,63,64,65,66,67,68], "tickCount": 300, "format": "d",
                    "labelExpr": "datum.value <= 20 ? (datum.value % 5 === 0 ? datum.label : '') : datum.value === 25 ? '0' : datum.value === 45 ? '5' : datum.value === 50 ? '10' : datum.value === 61 ? '0' : datum.value === 66 ? '5' : ''",
                    "labelFontSize": 4.5, "labelColor": "#222", "labelPadding": 16, "labelOverlap": false, "labelBound": false, "labelFlush": false,
                    "tickSize": 3, "tickColor": "#333", "tickWidth": 0.8,
                    "domainColor": "#000", "domainWidth": 1.5, "grid": false,
                    "title": "车辆数量", "titleFontSize": 12.5, "titleColor": "#444", "titleX": 120, "titleY": 11, "titleAlign": "center", "titleBaseline": "middle"
                  }
                },
                "y": {
                  "field": "v", "type": "quantitative",
                  "scale": {"domain": [0, 4545], "nice": false, "zero": false},
                  "axis": {
                    "values": [0, 500, 1000, 1500, 2000, 2500, 3000, 3500, 4000, 4500], "tickCount": 300, "format": "d", "labelOverlap": false,
                    "grid": true,
                    "gridColor": {"condition": {"test": "indexof([1500, 2000, 2500], datum.value) >= 0", "value": "#000"}, "value": "#9a9a9a"},
                    "gridWidth": 1.3,
                    "domainColor": "#000", "domainWidth": 1.5, "tickSize": 2, "tickColor": "#000",
                    "labelFontWeight": "bold", "labelFontSize": 11.5, "labelColor": "#111", "labelPadding": 1, "labelOffset": 1,
                    "title": "人力工时", "titleFontSize": 13, "titleColor": "#777", "titleX": -39, "titleY": 47, "titleAlign": "center", "titleBaseline": "middle"
                  }
                },
                "color": {"field": "yr", "type": "nominal", "scale": {"domain": ["2000", "2001", "2002", "2003"], "range": ["#f01818", "#1818e8", "#3d9c6c", "#fb7d1f"]}, "legend": null}
              }
            },
            {
              "data": {"values": [{}]},
              "mark": {"type": "text", "text": "e-works", "font": "DejaVu Sans", "fontSize": 40, "fontWeight": "bold", "fontStyle": "italic", "color": "#f09a5a", "opacity": 0.5},
              "encoding": {
                "x": {"datum": 35, "scale": {"domain": [-0.72, 68.34], "nice": false, "zero": false}},
                "y": {"datum": -700, "scale": {"domain": [0, 4545], "nice": false, "zero": false}}
              }
            }
          ]
        }
      ]
    }
  ]
}
